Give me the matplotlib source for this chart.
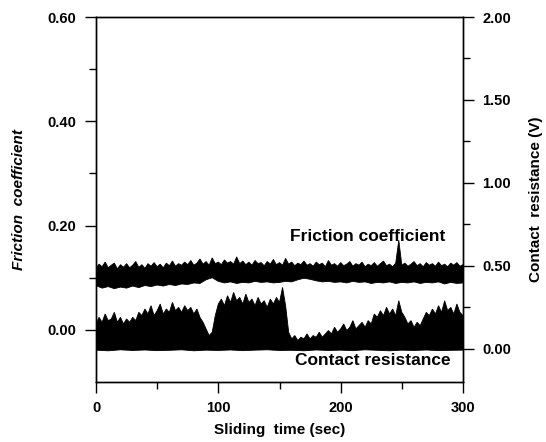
import matplotlib.pyplot as plt
import numpy as np

plt.rcParams['font.family'] = ['Liberation Sans', 'DejaVu Sans']
plt.rcParams['font.weight'] = 'bold'

t_fine = np.linspace(0, 300, 121)     # every 2.5 s
t_mid = np.linspace(0, 300, 61)       # every 5 s
t_coarse = np.linspace(0, 300, 31)    # every 10 s

fric_high = [
    0.118, 0.126, 0.121, 0.130, 0.119, 0.124, 0.128, 0.117, 0.125, 0.120,
    0.127, 0.119, 0.124, 0.131, 0.120, 0.125, 0.118, 0.127, 0.122, 0.129,
    0.121, 0.126, 0.119, 0.128, 0.123, 0.132, 0.122, 0.127, 0.124, 0.130,
    0.125, 0.133, 0.124, 0.128, 0.136, 0.126, 0.131, 0.124, 0.138, 0.127,
    0.130, 0.125, 0.134, 0.128, 0.131, 0.126, 0.140, 0.127, 0.132, 0.125,
    0.130, 0.124, 0.133, 0.127, 0.129, 0.123, 0.131, 0.126, 0.135, 0.125,
    0.129, 0.124, 0.137, 0.126, 0.130, 0.123, 0.128, 0.125, 0.132, 0.124,
    0.127, 0.122, 0.130, 0.125, 0.128, 0.121, 0.133, 0.124, 0.127, 0.122,
    0.129, 0.123, 0.126, 0.131, 0.122, 0.127, 0.124, 0.130, 0.121, 0.126,
    0.123, 0.129, 0.122, 0.127, 0.132, 0.123, 0.126, 0.121, 0.128, 0.172,
    0.124, 0.128, 0.122, 0.126, 0.131, 0.123, 0.127, 0.121, 0.129, 0.124,
    0.127, 0.122, 0.130, 0.123, 0.126, 0.121, 0.128, 0.124, 0.129, 0.122,
    0.125]

fric_low = [
    0.085, 0.080, 0.083, 0.079, 0.082, 0.080, 0.084, 0.081, 0.085, 0.083,
    0.086, 0.084, 0.087, 0.085, 0.088, 0.087, 0.090, 0.089, 0.096, 0.100,
    0.093, 0.090, 0.092, 0.089, 0.091, 0.090, 0.093, 0.091, 0.092, 0.090,
    0.091, 0.093, 0.092, 0.096, 0.099, 0.097, 0.094, 0.092, 0.093, 0.091,
    0.092, 0.090, 0.093, 0.091, 0.092, 0.089, 0.091, 0.090, 0.092, 0.089,
    0.091, 0.090, 0.092, 0.089, 0.091, 0.090, 0.092, 0.088, 0.091, 0.089,
    0.090]

cr_high = [
    0.15, 0.19, 0.16, 0.21, 0.17, 0.18, 0.22, 0.16, 0.19, 0.15,
    0.18, 0.16, 0.19, 0.17, 0.22, 0.20, 0.24, 0.21, 0.26, 0.20,
    0.23, 0.27, 0.21, 0.24, 0.22, 0.28, 0.23, 0.25, 0.22, 0.26,
    0.23, 0.25, 0.21, 0.24, 0.19, 0.16, 0.12, 0.08, 0.10, 0.20,
    0.27, 0.30, 0.26, 0.32, 0.28, 0.34, 0.29, 0.31, 0.27, 0.33,
    0.28, 0.30, 0.26, 0.31, 0.27, 0.29, 0.25, 0.30, 0.27, 0.31,
    0.28, 0.37, 0.26, 0.10, 0.06, 0.08, 0.05, 0.07, 0.06, 0.09,
    0.06, 0.08, 0.07, 0.10, 0.07, 0.09, 0.11, 0.09, 0.13, 0.10,
    0.12, 0.15, 0.11, 0.13, 0.17, 0.12, 0.14, 0.16, 0.13, 0.17,
    0.15, 0.21, 0.19, 0.23, 0.20, 0.25, 0.21, 0.24, 0.20, 0.29,
    0.22, 0.19, 0.15, 0.17, 0.13, 0.16, 0.14, 0.18, 0.22, 0.20,
    0.24, 0.21, 0.26, 0.22, 0.29, 0.23, 0.25, 0.21, 0.27, 0.22,
    0.20]

cr_low = [
    -0.008, -0.012, -0.006, -0.010, -0.007, -0.011, -0.009, -0.006, -0.012, -0.008,
    -0.010, -0.007, -0.011, -0.008, -0.006, -0.010, -0.009, -0.012, -0.007, -0.010,
    -0.008, -0.011, -0.006, -0.009, -0.012, -0.008, -0.010, -0.007, -0.011, -0.009,
    -0.008]

fig = plt.figure(figsize=(5.46, 4.42), dpi=100)
ax = fig.add_axes([96/546, 1 - 382/442, 367/546, 365/442])
ax2 = ax.twinx()

ax.fill(np.r_[t_fine, t_mid[::-1]], np.r_[fric_high, fric_low[::-1]],
        color='black', lw=0.6)
ax2.fill(np.r_[t_fine, t_coarse[::-1]], np.r_[cr_high, cr_low[::-1]],
         color='black', lw=0.6)

ax.set_xlim(0, 300)
ax.set_ylim(-0.1, 0.6)
ax2.set_ylim(-0.2, 2.0)

ax.set_xticks([0, 100, 200, 300])
ax.set_xticks([50, 150, 250], minor=True)
ax.set_yticks([0, 0.2, 0.4, 0.6])
ax.set_yticklabels(['0.00', '0.20', '0.40', '0.60'])
ax.set_yticks([0.1, 0.3, 0.5], minor=True)
ax2.set_yticks([0, 0.5, 1.0, 1.5, 2.0])
ax2.set_yticklabels(['0.00', '0.50', '1.00', '1.50', '2.00'])
ax2.set_yticks([0.25, 0.75, 1.25, 1.75], minor=True)

for a in (ax, ax2):
    a.tick_params(which='major', direction='out', length=8, width=1,
                  labelsize=10.5, pad=6)
    a.tick_params(which='minor', direction='out', length=5, width=1)
    for s in a.spines.values():
        s.set_linewidth(1)

ax.text(222, 0.179, 'Friction coefficient', ha='center', va='center',
        fontsize=12.5, weight='bold')
ax.text(226, -0.059, 'Contact resistance', ha='center', va='center',
        fontsize=12.5, weight='bold')

ax.set_ylabel('Friction  coefficient', style='italic', fontsize=11, weight='bold')
ax.yaxis.set_label_coords(-0.19, 0.5)
ax2.set_ylabel('Contact  resistance (V)', fontsize=11, weight='bold')
ax2.yaxis.set_label_coords(1.18, 0.5)
ax.set_xlabel('Sliding  time (sec)', fontsize=11, weight='bold')
ax.xaxis.set_label_coords(0.5, -0.112)

fig.savefig('out.png', dpi=100)
